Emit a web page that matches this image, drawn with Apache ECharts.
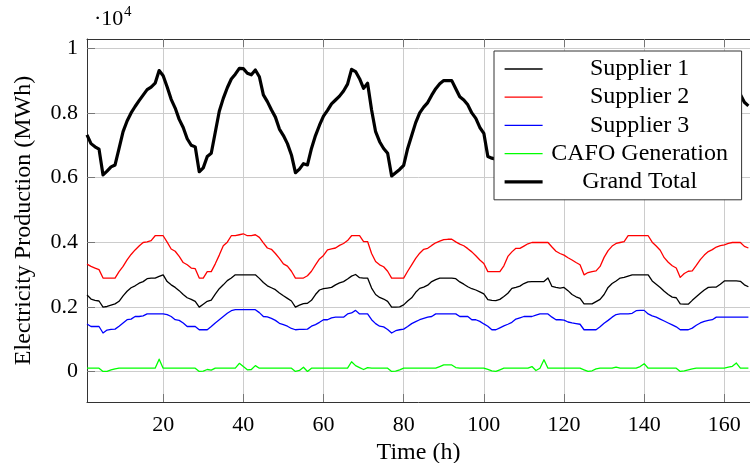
<!DOCTYPE html>
<html>
<head>
<meta charset="utf-8">
<script src="https://cdn.jsdelivr.net/npm/echarts@6/dist/echarts.min.js"></script>
<style>
html,body{margin:0;padding:0;background:#fff;}
#chart{width:750px;height:463px;}
</style>
</head>
<body>
<div id="chart"></div>
<script>
const seriesNames = ['Supplier 1','Supplier 2','Supplier 3','CAFO Generation','Grand Total'];
const xTicks = [20,40,60,80,100,120,140,160];
const yTicks = [0,2000,4000,6000,8000,10000];

const supplier1 = [2370,2240,2200,2180,1990,2010,2050,2090,2170,2340,
2480,2590,2650,2730,2780,2870,2890,2890,2940,2990,
2780,2680,2600,2500,2380,2280,2230,2170,1990,2080,
2170,2210,2390,2560,2680,2810,2890,2990,2990,2990,
2990,2990,2990,2880,2750,2650,2590,2530,2430,2340,
2260,2180,1990,2050,2100,2110,2200,2380,2520,2560,
2580,2600,2680,2740,2780,2860,2950,3000,2900,2890,
2890,2580,2380,2290,2240,2170,1990,1990,2000,2060,
2180,2280,2450,2570,2610,2670,2780,2840,2890,2890,
2890,2890,2870,2770,2700,2620,2560,2520,2460,2400,
2220,2200,2190,2230,2320,2420,2570,2600,2640,2720,
2770,2780,2780,2780,2780,2890,2630,2600,2580,2600,
2500,2380,2310,2260,2090,2090,2090,2160,2230,2380,
2600,2720,2800,2890,2910,2950,2990,2990,2990,2990,
2990,2800,2700,2600,2480,2380,2300,2280,2090,2080,
2080,2200,2310,2420,2520,2600,2610,2610,2700,2800,
2800,2800,2800,2790,2680,2620];

const supplier2 = [3320,3250,3200,3150,2890,2890,2890,2890,3090,3250,
3450,3620,3760,3880,3990,4010,4050,4200,4200,4200,
4000,3790,3720,3560,3370,3300,3200,3180,2890,2890,
3090,3090,3330,3600,3890,4000,4200,4200,4230,4260,
4200,4200,4230,4150,3980,3820,3780,3650,3500,3330,
3260,3100,2890,2890,2890,2960,3100,3300,3480,3590,
3760,3790,3820,3900,3960,4050,4200,4200,4200,4020,
4020,3650,3400,3300,3240,3100,2890,2890,2890,2890,
3100,3300,3500,3660,3780,3810,3900,3980,4030,4080,
4090,4090,4010,3940,3890,3800,3700,3580,3450,3340,
3090,3090,3090,3090,3270,3560,3700,3810,3810,3880,
3950,3990,3990,3990,3990,3990,3850,3720,3650,3600,
3520,3450,3370,3300,2990,3060,3090,3110,3250,3530,
3740,3880,3960,3990,4020,4200,4200,4200,4200,4200,
4200,4000,3880,3750,3520,3380,3270,3200,2910,3030,
3100,3110,3280,3460,3600,3710,3770,3850,3890,3920,
3960,3990,3990,3990,3870,3820];

const supplier3 = [1470,1390,1390,1390,1190,1280,1300,1310,1400,1500,
1600,1620,1700,1700,1720,1780,1780,1780,1780,1780,
1760,1700,1600,1580,1500,1390,1390,1390,1290,1290,
1290,1390,1500,1600,1700,1800,1880,1910,1910,1910,
1910,1910,1910,1820,1700,1690,1640,1580,1490,1450,
1400,1330,1290,1300,1300,1310,1400,1450,1520,1600,
1600,1660,1680,1680,1680,1780,1810,1890,1780,1780,
1780,1600,1480,1400,1380,1300,1190,1260,1290,1310,
1390,1480,1540,1600,1640,1680,1700,1780,1780,1780,
1780,1780,1780,1700,1700,1700,1600,1600,1550,1470,
1400,1290,1290,1350,1410,1460,1520,1620,1660,1700,
1700,1700,1740,1780,1780,1780,1680,1600,1600,1590,
1530,1500,1480,1460,1290,1290,1290,1290,1380,1490,
1580,1680,1760,1780,1780,1780,1800,1880,1890,1890,
1780,1720,1680,1620,1560,1500,1440,1380,1290,1290,
1290,1340,1430,1500,1550,1580,1600,1680,1680,1680,
1680,1680,1680,1680,1680,1680];

const cafo = [100,100,100,100,0,0,50,80,100,100,
100,100,100,100,100,100,100,100,380,100,
100,100,100,100,100,100,100,100,0,10,
60,40,100,100,100,100,100,100,250,150,
50,60,180,100,100,100,100,100,100,100,
100,100,0,30,130,0,100,100,100,100,
100,100,100,100,100,100,300,180,120,60,
120,100,100,100,100,100,0,10,50,100,
100,100,100,100,100,100,100,100,150,200,
200,200,120,100,100,100,100,100,100,100,
60,20,0,50,100,100,100,100,100,100,
100,150,30,100,360,100,100,100,100,100,
100,100,100,100,50,0,20,80,100,100,
100,100,130,100,100,100,100,100,150,240,
100,100,100,100,100,100,100,100,0,20,
50,80,100,100,100,100,100,100,100,100,
130,160,260,100,100,100];

const grandTotal = [7320,7050,6950,6880,6080,6200,6330,6390,6900,7420,
7750,8000,8200,8380,8550,8720,8800,8920,9310,9150,
8800,8420,8150,7800,7550,7200,7000,6950,6180,6300,
6650,6750,7400,8050,8450,8780,9050,9200,9380,9370,
9230,9180,9330,9120,8560,8350,8100,7870,7500,7300,
7050,6700,6150,6260,6430,6390,6900,7300,7620,7900,
8080,8280,8400,8520,8680,8890,9350,9280,9060,8760,
8920,8090,7420,7110,6900,6750,6050,6150,6250,6380,
6900,7300,7700,8000,8180,8320,8550,8750,8900,9000,
9000,9000,8750,8500,8400,8250,8000,7830,7550,7370,
6650,6600,6570,6720,7100,7540,7890,8130,8210,8400,
8520,8620,8550,8650,8910,8760,8260,8020,7930,7890,
7650,7430,7260,7120,6420,6440,6490,6640,6960,7500,
8020,8380,8650,8760,8810,9030,9090,9170,9230,9320,
9070,8620,8360,8070,7660,7360,7110,6960,6290,6420,
6520,6730,7120,7480,7770,7990,8080,8240,8370,8500,
8610,8640,8800,8570,8330,8220];

const hours = supplier1.map((_, i) => i + 1);
const pair = arr => arr.map((v, i) => [hours[i], v]);

const FONT = 'Liberation Serif';
const FS_NUM = 22;
const FS_TXT = 24;
const colors = ['#000000', '#ff0000', '#0000ff', '#00ff00', '#000000'];
const widths = [1.3, 1.3, 1.3, 1.3, 3.2];
const dataSets = [supplier1, supplier2, supplier3, cafo, grandTotal];

const chart = echarts.init(document.getElementById('chart'), null, {renderer: 'canvas'});

const tickStyle = {color: '#777', width: 1};
const axisLineStyle = {color: '#333', width: 1};

const option = {
  animation: false,
  backgroundColor: '#fff',
  textStyle: {fontFamily: FONT},
  grid: {left: 87, right: 0, top: 39, bottom: 61, show: false, containLabel: false, outerBoundsMode: 'none'},
  legend: {
    orient: 'vertical',
    left: 494,
    top: 51,
    z: 20,
    padding: [6, 10, 6, 9],
    itemGap: 4.2,
    itemWidth: 38,
    itemHeight: 24,
    backgroundColor: '#fff',
    borderColor: '#333',
    borderWidth: 1,
    borderRadius: 0,
    itemStyle: {color: 'rgba(0,0,0,0)', borderWidth: 0, opacity: 0},
    data: seriesNames.map((n, i) => ({
      name: n,
      lineStyle: {color: colors[i], width: widths[i], opacity: 1}
    })),
    formatter: name => '{t|' + name + '}',
    textStyle: {
      fontFamily: FONT,
      fontSize: FS_TXT,
      lineHeight: 24,
      color: '#000',
      rich: {t: {width: 184, align: 'center', fontFamily: FONT, fontSize: FS_TXT, lineHeight: 24, color: '#000'}}
    }
  },
  xAxis: [{
    type: 'value', min: 1, max: 166.4, position: 'bottom',
    name: 'Time (h)', nameLocation: 'middle', nameGap: 34,
    nameTextStyle: {fontFamily: FONT, fontSize: FS_TXT, color: '#000'},
    axisLine: {show: true, onZero: false, lineStyle: axisLineStyle},
    axisTick: {show: true, inside: true, length: 8, customValues: xTicks, lineStyle: tickStyle},
    axisLabel: {customValues: xTicks, fontFamily: FONT, fontSize: FS_NUM, color: '#000', margin: 12},
    splitLine: {show: true, lineStyle: {color: '#cccccc', width: 1}}
  }, {
    type: 'value', min: 1, max: 166.4, position: 'top',
    axisLine: {show: true, onZero: false, lineStyle: axisLineStyle},
    axisTick: {show: true, inside: true, length: 8, customValues: xTicks, lineStyle: tickStyle},
    axisLabel: {show: false},
    splitLine: {show: false}
  }],
  yAxis: {
    type: 'value', min: -946, max: 10288,
    name: 'Electricity Production (MWh)', nameLocation: 'middle', nameGap: 51, nameRotate: 90,
    nameTextStyle: {fontFamily: FONT, fontSize: FS_TXT, color: '#000'},
    axisLine: {show: true, onZero: false, lineStyle: axisLineStyle},
    axisTick: {show: true, inside: true, length: 8, customValues: yTicks, lineStyle: tickStyle},
    axisLabel: {
      customValues: yTicks, fontFamily: FONT, fontSize: FS_NUM, color: '#000', margin: 9,
      formatter: v => v === 0 ? '0' : String(Math.round(v / 1000) / 10)
    },
    splitLine: {show: true, lineStyle: {color: '#cccccc', width: 1}}
  },
  graphic: [
    {type: 'text', left: 94, top: 8, style: {text: '·10', fontFamily: FONT, fontSize: FS_NUM, fill: '#000'}},
    {type: 'text', left: 124, top: 5, style: {text: '4', fontFamily: FONT, fontSize: 15, fill: '#000'}}
  ],
  series: seriesNames.map((n, i) => ({
    name: n,
    type: 'line',
    xAxisIndex: 0,
    symbol: 'none',
    showSymbol: false,
    data: pair(dataSets[i]),
    lineStyle: {color: colors[i], width: widths[i], join: 'round'},
    itemStyle: {color: colors[i]},
    z: 2
  }))
};
chart.setOption(option);
</script>
</body>
</html>
